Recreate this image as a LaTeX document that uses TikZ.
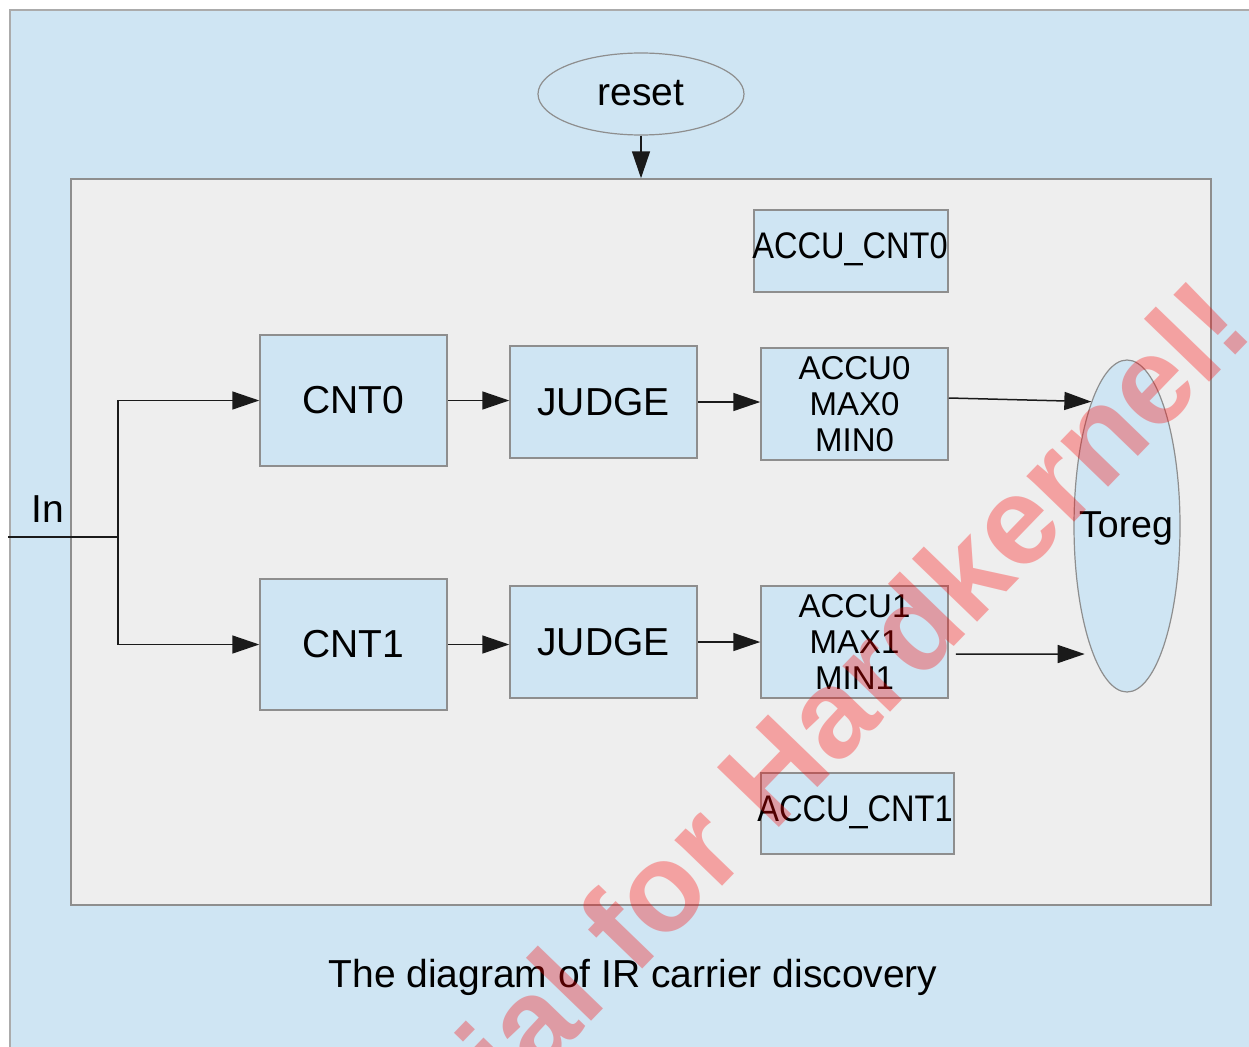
\documentclass[tikz,border=0pt]{standalone}
\usepackage{fontspec}
\setmainfont{Liberation Sans}
\usetikzlibrary{arrows.meta,shapes.geometric,calc}
\definecolor{bgblue}{HTML}{CFE5F3}
\definecolor{innergray}{HTML}{EEEEEE}
\definecolor{edgegray}{HTML}{8E8E8E}
\definecolor{framegray}{HTML}{ABABAB}
\definecolor{lineblack}{HTML}{1A1A1A}
\begin{document}
\begin{tikzpicture}[x=1pt,y=-1pt,
  panel/.style={draw=edgegray, line width=1.5pt, fill=innergray, inner sep=0pt},
  box/.style={draw=edgegray, line width=1.5pt, fill=bgblue, inner sep=0pt, align=center,
              font=\fontsize{39}{44}\selectfont},
  smallbox/.style={box, font=\fontsize{33}{36}\selectfont},
  oval/.style={ellipse, draw=edgegray, line width=1.2pt, fill=bgblue, inner sep=0pt},
  label/.style={inner sep=0pt, font=\fontsize{39}{44}\selectfont},
  narrowlabel/.style={inner sep=0pt, font=\fontsize{37}{40}\selectfont, xscale=0.88, transform shape},
  wire/.style={draw=lineblack, line width=1.5pt},
  arr/.style={wire, -{Triangle[length=27pt,width=18pt]}},
  watermark/.style={inner sep=0pt, text=red, text opacity=0.32,
              font=\fontsize{125}{125}\selectfont\bfseries}
]
\useasboundingbox (0,0) rectangle (1249,1046);
\fill[white] (0,0) rectangle (1249,1046);
\draw[draw=framegray, line width=2pt, fill=bgblue] (10,10) rectangle (1275,1075);

% main frame
\node[panel, minimum width=1140pt, minimum height=726pt] (inner) at (641,542) {};

% reset
\node[oval, minimum width=206pt, minimum height=82pt] (reset) at (641,94) {};
\node[label] (resettxt) at (641,93) {reset};

% blocks
\node[box, minimum width=194pt, minimum height=82pt] (accucnt0) at (851,251) {};
\node[narrowlabel] (accucnt0txt) at (850,249) {ACCU\_CNT0};
\node[box, minimum width=187pt, minimum height=131pt] (cnt0) at (353.5,400.5) {CNT0};
\node[box, minimum width=187pt, minimum height=112pt] (judge0) at (603.5,402) {JUDGE};
\node[smallbox, minimum width=187pt, minimum height=112pt] (accu0) at (854.5,404) {ACCU0\\MAX0\\MIN0};

\node[box, minimum width=187pt, minimum height=131pt] (cnt1) at (353.5,644.5) {CNT1};
\node[box, minimum width=187pt, minimum height=112pt] (judge1) at (603.5,642) {JUDGE};
\node[smallbox, minimum width=187pt, minimum height=112pt] (accu1) at (854.5,642) {ACCU1\\MAX1\\MIN1};

\node[box, minimum width=193pt, minimum height=81pt] (accucnt1) at (857.5,813.5) {};
\node[narrowlabel] (accucnt1txt) at (855,812) {ACCU\_CNT1};

\node[oval, minimum width=106pt, minimum height=332pt] (toreg) at (1127,526) {};
\node[label, font=\fontsize{37.5}{40}\selectfont] (toregtxt) at (1126,528) {Toreg};

% labels
\node[label] (inlabel) at (48,509) {In};
\node[label] (caption) at (633,977) {The diagram of IR carrier discovery};

% connectors
\coordinate (inpt) at (8,537);
\coordinate (split) at (118,537);
\draw[wire] (inpt) -- (split);
\draw[arr] (split) |- (cnt0.west);
\draw[arr] (split) |- (cnt1.west);
\draw[arr] (reset.south) -- (inner.north);
\draw[arr] (cnt0.east) -- (cnt0.east -| judge0.west);
\draw[arr] (cnt1.east) -- (cnt1.east -| judge1.west);
\draw[arr] (judge0.east) -- (judge0.east -| accu0.west);
\draw[arr] (judge1.east) -- (judge1.east -| accu1.west);
\draw[arr] ([yshift=6pt]accu0.east) -- (toreg.106);
\draw[arr, shorten >=8pt] ([xshift=7pt,yshift=-12pt]accu1.east) -- (toreg.-105);

% watermark
\node[watermark, rotate=46, anchor=base] (wm) at (885,718) {ial for Hardkernel!};
\end{tikzpicture}
\end{document}
